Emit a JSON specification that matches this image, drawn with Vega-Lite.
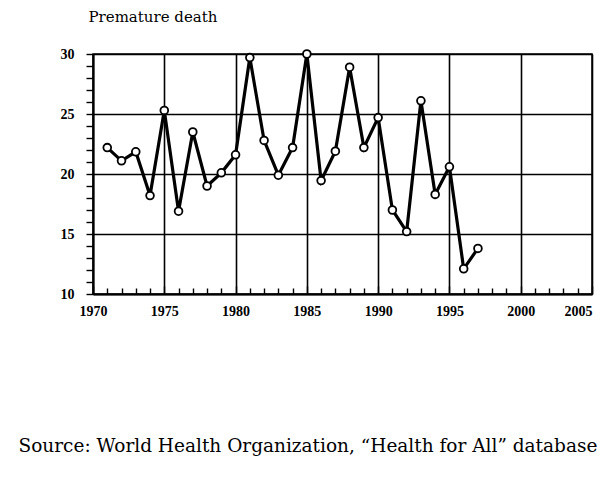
{
  "$schema": "https://vega.github.io/schema/vega-lite/v6.json",
  "autosize": {"type": "none"},
  "width": 499,
  "height": 240,
  "padding": {"left": 93, "top": 54, "right": 10, "bottom": 193},
  "background": "white",
  "config": {
    "view": {"stroke": "black", "strokeWidth": 1.5},
    "font": "Liberation Serif"
  },
  "data": {
    "values": [
      {"year": 1971, "value": 22.2},
      {"year": 1972, "value": 21.1},
      {"year": 1973, "value": 21.85},
      {"year": 1974, "value": 18.2},
      {"year": 1975, "value": 25.3},
      {"year": 1976, "value": 16.9},
      {"year": 1977, "value": 23.5},
      {"year": 1978, "value": 19.0},
      {"year": 1979, "value": 20.1},
      {"year": 1980, "value": 21.6},
      {"year": 1981, "value": 29.7},
      {"year": 1982, "value": 22.8},
      {"year": 1983, "value": 19.9},
      {"year": 1984, "value": 22.2},
      {"year": 1985, "value": 30.0},
      {"year": 1986, "value": 19.45},
      {"year": 1987, "value": 21.9},
      {"year": 1988, "value": 28.9},
      {"year": 1989, "value": 22.2},
      {"year": 1990, "value": 24.7},
      {"year": 1991, "value": 17.0},
      {"year": 1992, "value": 15.2},
      {"year": 1993, "value": 26.1},
      {"year": 1994, "value": 18.3},
      {"year": 1995, "value": 20.6},
      {"year": 1996, "value": 12.1},
      {"year": 1997, "value": 13.8}
    ]
  },
  "encoding": {
    "x": {
      "field": "year",
      "type": "quantitative",
      "scale": {"domain": [1970, 2005], "nice": false, "zero": false},
      "axis": {
        "values": [1970,1971,1972,1973,1974,1975,1976,1977,1978,1979,1980,1981,1982,1983,1984,1985,1986,1987,1988,1989,1990,1991,1992,1993,1994,1995,1996,1997,1998,1999,2000,2001,2002,2003,2004,2005],
        "labelExpr": "datum.value % 5 === 0 ? datum.label : ''",
        "format": "d",
        "grid": true,
        "gridColor": "black",
        "gridWidth": 1.6,
        "gridOpacity": {"condition": {"test": "datum.value % 5 === 0", "value": 1}, "value": 0},
        "tickColor": "black",
        "tickWidth": 1.4,
        "tickSize": {"condition": {"test": "datum.value % 5 === 0", "value": -8}, "value": -6},
        "domainColor": "black",
        "domainWidth": 2,
        "labelPadding": 18,
        "labelFont": "Liberation Serif",
        "labelFontWeight": "bold",
        "labelFontSize": 14,
        "labelColor": "black",
        "labelFlush": false,
        "labelOverlap": false,
        "labelAlign": {"condition": {"test": "datum.value === 2005", "value": "right"}, "value": "center"},
        "title": "Source:  World Health Organization, \u201cHealth for All\u201d database",
        "titleFont": "DejaVu Serif",
        "titleFontWeight": "normal",
        "titleFontSize": 18.5,
        "titleColor": "black",
        "titleAnchor": "start",
        "titleAlign": "left",
        "titleX": -75,
        "titleY": 157,
        "titleBaseline": "alphabetic"
      }
    },
    "y": {
      "field": "value",
      "type": "quantitative",
      "scale": {"domain": [10, 30], "nice": false, "zero": false},
      "axis": {
        "values": [10,11,12,13,14,15,16,17,18,19,20,21,22,23,24,25,26,27,28,29,30],
        "labelExpr": "datum.value % 5 === 0 ? datum.label : ''",
        "grid": true,
        "gridColor": "black",
        "gridWidth": 1.6,
        "gridOpacity": {"condition": {"test": "datum.value % 5 === 0", "value": 1}, "value": 0},
        "tickColor": "black",
        "tickWidth": 1.4,
        "tickSize": 7,
        "domainColor": "black",
        "domainWidth": 2,
        "labelPadding": 12,
        "labelFont": "Liberation Serif",
        "labelFontWeight": "bold",
        "labelFontSize": 14,
        "labelColor": "black",
        "labelFlush": false,
        "labelOverlap": false,
        "title": "Premature death",
        "titleFont": "DejaVu Serif",
        "titleFontWeight": "normal",
        "titleFontSize": 15,
        "titleColor": "black",
        "titleAngle": 0,
        "titleAlign": "left",
        "titleBaseline": "alphabetic",
        "titleX": -5,
        "titleY": -33
      }
    }
  },
  "layer": [
    {
      "mark": {"type": "line", "color": "black", "strokeWidth": 3.2}
    },
    {
      "mark": {"type": "point", "shape": "circle", "filled": false, "fill": "white", "fillOpacity": 1, "stroke": "black", "strokeWidth": 1.8, "size": 60, "opacity": 1}
    }
  ]
}
